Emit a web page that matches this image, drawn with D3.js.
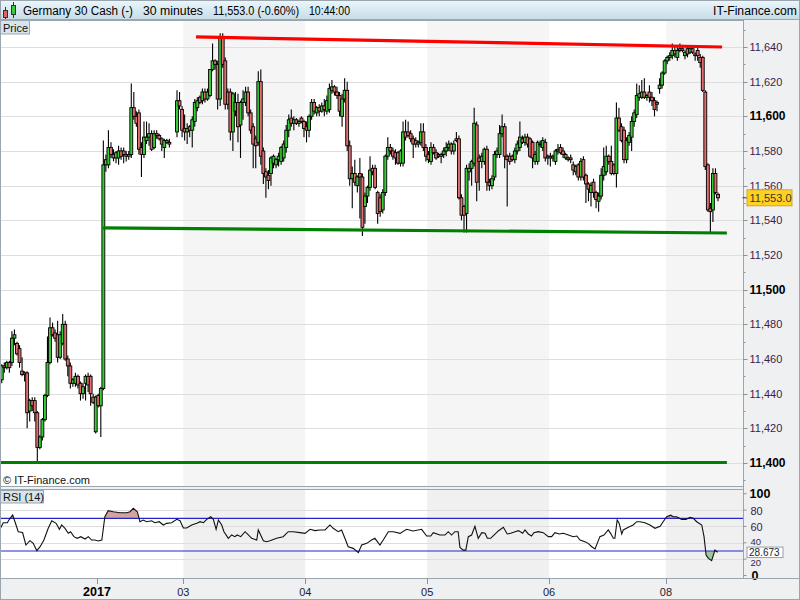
<!DOCTYPE html>
<html><head><meta charset="utf-8">
<script src="https://cdnjs.cloudflare.com/ajax/libs/d3/7.8.5/d3.min.js"></script>
<style>body{margin:0;background:#fff}svg{display:block;font-family:"Liberation Sans",Arial,sans-serif}</style>
</head><body><svg id="c" width="800" height="600"></svg>
<script>
// ---- DATA: 30-minute candles [open, high, low, close] per trading day ----
const dec30 = [
[11448,11457,11446,11456],[11456,11458,11452,11455],[11455,11459,11454,11458],[11458,11459,11452,11455],
[11458,11476,11456,11472],[11472,11477,11468,11474],[11469,11470,11462,11463],[11466,11468,11455,11458],
[11453,11461,11450,11451],[11451,11453,11447,11452],[11452,11453,11420,11429],[11430,11437,11424,11436],
[11436,11438,11430,11433],[11436,11438,11424,11429],[11429,11430,11401,11409],[11409,11416,11408,11415],
[11415,11426,11413,11425],[11425,11440,11424,11439],[11439,11473,11438,11458],[11458,11484,11457,11478],
[11478,11481,11473,11474],[11475,11477,11470,11472],[11474,11482,11458,11461],[11461,11476,11460,11474],
[11469,11486,11468,11480],[11480,11482,11459,11460],[11460,11462,11450,11456],[11456,11458,11443,11446],
[11446,11449,11444,11448],[11446,11452,11444,11450],[11450,11451,11443,11445],[11446,11447,11436,11440],
[11440,11446,11437,11444],[11446,11451,11436,11450],[11450,11452,11441,11445],[11450,11451,11433,11440],
[11438,11440,11434,11435],[11418,11439,11417,11438]];
const jan02 = [
[11439,11440,11432,11433],[11433,11444,11415,11443],[11443,11586,11442,11572],[11572,11578,11568,11575],
[11572,11592,11570,11582],[11582,11585,11576,11578],[11578,11581,11574,11576],[11576,11580,11573,11579],
[11576,11583,11572,11580],[11580,11582,11575,11577],[11580,11582,11573,11578],[11578,11580,11574,11577],
[11577,11580,11575,11578],[11578,11619,11576,11605],[11605,11614,11598,11600],[11600,11603,11594,11596],
[11602,11604,11578,11581],[11582,11585,11565,11578],[11578,11597,11576,11588],[11586,11597,11584,11588],
[11588,11596,11583,11590],[11590,11592,11580,11581],[11582,11592,11581,11590],[11590,11592,11587,11589],
[11589,11590,11586,11587],[11587,11588,11580,11584],[11582,11587,11576,11586],[11586,11587,11584,11585],
[11585,11587,11582,11584],null,null,[11591,11615,11588,11609],[11609,11614,11604,11606],[11604,11606,11588,11592]];
const jan03 = [
[11593,11601,11586,11591],[11591,11596,11584,11593],[11594,11595,11588,11592],[11592,11600,11582,11598],
[11597,11610,11594,11608],[11605,11611,11603,11609],[11611,11612,11607,11608],[11609,11616,11607,11614],
[11614,11616,11608,11610],[11610,11616,11609,11614],[11612,11627,11611,11627],[11627,11642,11626,11632],
[11632,11633,11627,11630],[11630,11632,11604,11610],[11610,11648,11606,11645],[11645,11648,11628,11630],
[11632,11634,11604,11607],[11614,11616,11604,11607],[11614,11616,11586,11591],[11591,11614,11580,11613],
[11603,11614,11600,11608],[11608,11613,11585,11594],[11595,11609,11576,11608],[11608,11615,11598,11610],
[11608,11617,11606,11614],[11614,11617,11600,11602],[11602,11604,11590,11592],[11594,11596,11570,11584],
[11587,11589,11570,11583],[11585,11626,11583,11620],[11620,11627,11572,11577],[11580,11582,11561,11567],
[11568,11570,11553,11565],[11566,11569,11558,11563],[11567,11577,11560,11576],[11573,11578,11570,11577],
[11572,11576,11570,11575],[11575,11579,11571,11577],[11574,11583,11572,11582],[11576,11586,11574,11584],
[11582,11595,11579,11592],[11592,11601,11588,11598],[11599,11604,11594,11596],[11596,11600,11592,11598],
[11598,11599,11595,11596],[11596,11598,11594,11597],[11599,11600,11596,11597],[11597,11598,11588,11593]];
const jan04 = [
[11594,11597,11585,11592],[11592,11601,11588,11600],[11600,11610,11598,11608],[11608,11610,11601,11603],
[11602,11606,11600,11605],[11605,11607,11600,11603],[11603,11608,11602,11606],[11606,11610,11600,11604],
[11603,11612,11601,11609],[11604,11619,11602,11616],[11615,11621,11613,11617],[11617,11618,11612,11614],
[11614,11617,11610,11612],[11612,11614,11600,11603],[11600,11613,11594,11610],[11610,11622,11608,11615],
[11615,11620,11580,11583],[11583,11586,11560,11564],[11564,11571,11547,11567],[11567,11575,11560,11562],
[11560,11566,11556,11565],[11567,11576,11541,11565],[11565,11567,11531,11536],[11548,11556,11538,11554],
[11554,11560,11550,11559],[11559,11577,11557,11569],[11570,11572,11566,11568],[11570,11572,11558,11559],
[11556,11557,11538,11544],[11553,11555,11542,11545],[11546,11558,11544,11556],[11556,11578,11554,11577],
[11577,11588,11575,11582],[11582,11584,11578,11580],[11580,11582,11575,11577],[11579,11581,11572,11576],
[11579,11580,11572,11573],[11573,11581,11571,11580],[11573,11597,11571,11591],[11591,11598,11586,11588],
[11591,11597,11588,11589],[11590,11592,11585,11587],[11587,11589,11576,11584],[11586,11588,11582,11584],
[11584,11586,11582,11585],[11585,11596,11583,11591],[11591,11596,11580,11582],[11582,11584,11574,11577]];
const jan05 = [
[11578,11580,11573,11575],[11574,11585,11572,11582],[11582,11584,11578,11579],[11579,11581,11575,11576],
[11578,11579,11576,11577],[11577,11579,11573,11578],[11578,11582,11576,11580],[11580,11585,11577,11582],
[11582,11586,11580,11584],[11584,11585,11578,11580],[11580,11586,11578,11584],[11587,11591,11585,11586],
[11587,11589,11552,11553],[11553,11555,11540,11543],[11548,11549,11533,11543],[11544,11572,11533,11570],
[11568,11573,11563,11570],[11570,11575,11560,11574],[11573,11605,11571,11596],[11595,11597,11551,11562],
[11576,11578,11557,11574],[11574,11579,11570,11577],[11574,11582,11572,11581],[11581,11583,11557,11562],
[11562,11564,11557,11560],[11560,11566,11558,11564],[11565,11580,11563,11578],[11578,11582,11576,11580],
[11578,11595,11576,11590],[11590,11601,11588,11594],[11594,11596,11570,11577],[11577,11578,11548,11575],
[11577,11579,11572,11574],[11577,11578,11574,11575],[11575,11582,11573,11580],[11580,11586,11578,11584],
[11582,11597,11580,11588],[11587,11589,11584,11585],[11585,11590,11583,11588],[11588,11590,11582,11584],
[11587,11588,11576,11577],[11585,11586,11570,11576],[11574,11580,11572,11578],[11574,11586,11572,11585],
[11584,11586,11582,11584],[11582,11588,11580,11586],[11585,11587,11574,11576],[11576,11578,11572,11577]];
const jan06 = [
[11577,11579,11571,11576],[11576,11578,11574,11577],[11574,11581,11572,11580],[11580,11584,11578,11581],
[11582,11584,11578,11579],[11580,11582,11576,11578],[11578,11579,11575,11576],[11575,11577,11574,11576],
[11576,11578,11573,11575],[11572,11574,11566,11569],[11568,11572,11566,11571],[11572,11573,11563,11565],
[11565,11576,11563,11574],[11575,11577,11563,11565],[11566,11567,11550,11561],[11561,11562,11551,11558],
[11556,11562,11548,11560],[11562,11564,11553,11556],[11556,11557,11547,11552],[11551,11556,11545,11554],
[11554,11570,11552,11566],[11566,11582,11563,11571],[11568,11583,11566,11577],[11577,11578,11572,11574],
[11574,11583,11566,11567],[11572,11573,11566,11567],[11567,11608,11559,11599],[11599,11605,11591,11592],
[11594,11596,11585,11586],[11592,11594,11573,11575],[11575,11588,11573,11586],[11585,11591,11583,11589],
[11588,11600,11580,11597],[11597,11604,11594,11602],[11601,11619,11599,11612],[11611,11618,11609,11613],
[11611,11621,11610,11614],[11614,11622,11610,11611],[11611,11613,11609,11612],[11614,11618,11608,11611],
[11611,11614,11606,11609],[11609,11611,11600,11604],[11607,11609,11603,11608],[11616,11622,11613,11618],
[11618,11626,11616,11625],[11625,11633,11624,11632]];
const jan08 = [
[11632,11635,11630,11634],[11634,11637,11632,11635],[11635,11642,11633,11638],[11638,11640,11634,11636],
[11634,11640,11632,11638],[11639,11642,11637,11638],[11639,11640,11637,11638],[11635,11638,11633,11637],
[11639,11640,11634,11636],[11637,11641,11636,11639],[11639,11640,11636,11637],[11636,11637,11632,11635],
[11638,11640,11632,11635],[11634,11636,11628,11631],[11634,11635,11614,11615],[11614,11615,11569,11571],
[11572,11573,11545,11546],[11547,11550,11533,11545],[11546,11570,11539,11567],[11567,11570,11555,11556],
[11555,11556,11551,11553]];
const dayLabels = ["2017","03","04","05","06","08"];
const shadedDays = ["03","05","08"];
const priceTicks = [11400,11420,11440,11460,11480,11500,11520,11540,11560,11580,11600,11620,11640];
const rsiTicks = [0,20,40,60,80,100];
// trend lines: [candle index, price]
const redLine = [[76.5,11645.8],[283.6,11640]];
const supportLine = [[39.9,11535.6],[285.5,11532.7]];
const floorLine = [[-0.7,11400.3],[285.5,11400.3]];
// RSI(14): [candle index, value]
const rsiPts = [
[-0.7,56.5],[0.6,64.6],[2.2,64.6],[3.0,68.7],[4.3,74],[5.2,65.8],[6.5,53.6],[8.2,52.5],[9.5,37.3],[11.1,42.6],
[12.4,39.3],[13.8,30.4],[15.1,35.2],[16.6,43.4],[18.3,57.7],[19.7,67],[21.4,63.8],[22.7,56.5],[23.6,61.8],[24.9,57.7],
[26.2,51.6],[27.1,53.6],[28.4,47.5],[29.7,45.5],[31.1,47.5],[32.8,44.6],[34.1,47.5],[35.4,43.4],[36.7,43.4],[38.0,42.2],
[39.4,43.4],[40.6,71.9],[41.9,79.3],[43.9,78],[46.6,76.8],[49.2,76.8],[50.5,78],[51.8,82.2],[53.4,78],[54.4,65.8],
[55.7,67.9],[57.1,65.8],[59.0,67],[60.3,64.6],[62.0,65.8],[63.6,61.8],[64.9,63.8],[66.9,64.6],[68.9,68.7],[70.2,67],
[71.5,58.1],[72.8,58.1],[74.8,61.8],[76.8,63.8],[78.1,65.8],[79.4,64.6],[80.7,68.7],[82.3,71.9],[83.3,68.7],[84.4,56.5],
[85.3,67.9],[86.6,61.8],[87.5,53.6],[89.2,45.5],[90.5,49.6],[91.8,47.5],[92.7,49.6],[94.1,47.5],[95.8,53.6],[97.1,49.6],
[98.4,45.5],[100.4,43.4],[101.0,55.7],[103.0,42.6],[104.3,41.4],[105.6,42.6],[108.2,45.5],[110.8,47.5],[112.8,53.6],[114.8,53.6],
[117.4,52.4],[119.4,51.6],[121.4,56.5],[123.3,54.9],[125.3,55.7],[127.3,55.7],[129.2,61.8],[130.5,57.7],[132.5,53.6],[133.8,55.7],
[135.1,45.5],[136.4,35.2],[138.4,33.2],[140.4,27.9],[141.7,37.3],[143.7,39.3],[145.6,43.4],[146.9,45.5],[148.9,37.3],[150.2,43.4],
[152.2,53.6],[154.2,53.6],[156.8,51.5],[159.4,56.5],[162.0,54.5],[165.3,56.5],[167.3,48.3],[168.9,48.3],[169.9,52.4],[172.5,49.5],
[174.5,49.5],[175.8,53.6],[177.1,49.5],[178.4,53.6],[179.7,53.6],[180.4,34.3],[181.7,31.1],[182.7,31.1],[183.7,47.5],[185.0,49.5],
[186.3,60.2],[187.6,45.5],[189.0,52.4],[190.3,51.6],[191.2,45.5],[192.5,45.5],[193.8,49.5],[195.5,54.5],[197.5,59],[199.0,50.8],
[200.4,51.6],[202.1,53.6],[203.4,54.9],[205.1,51.6],[206.0,55.7],[207.3,50.8],[208.6,48.3],[209.5,52.4],[211.2,53.6],[213.2,52.4],
[215.2,47.5],[216.5,47.5],[217.8,52.4],[219.5,50.8],[221.1,51.6],[223.1,49.5],[225.0,47.5],[226.4,48.3],[227.7,43.4],[229.6,41.4],
[230.9,39.3],[232.3,35.2],[233.6,32.4],[235.5,47.5],[237.1,49.5],[238.8,55.7],[239.7,51.6],[240.8,45.5],[241.4,45.5],[242.3,67.9],
[243.1,63.8],[244.1,50.8],[244.7,55.7],[246.7,59],[248.6,61.8],[250.0,65.8],[251.3,65.8],[253.2,64.6],[255.2,61.8],[257.2,57.7],
[259.2,60.2],[260.4,65.8],[261.8,71.9],[263.4,73.8],[264.4,71.9],[265.7,71.9],[267.7,68.7],[269.4,68.7],[271.0,71.2],[272.3,70],
[273.6,65.8],[275.6,61.8],[276.5,47.5],[277.3,25.1],[278.2,21],[279.5,18.1],[280.8,31.1],[281.5,29.1],[282,28.673]];
const lastPrice = 11553.0, lastRsi = 28.673;

// ---- BUILD ----
const days = [dec30,jan02,jan03,jan04,jan05,jan06,jan08];
const candles = [].concat(...days).map((d,i)=>d?{i,o:d[0],h:d[1],l:d[2],c:d[3]}:null).filter(Boolean);
const nSlots = [].concat(...days).length;
const starts = []; { let s=0; days.forEach((d,k)=>{ if(k>0) starts.push(s-0.5); s+=d.length; }); }

const plotR = 743, pTop = 20, pBot = 487, rTop = 489, rBot = 578;
const x = d3.scaleLinear().domain([0,nSlots-1]).range([1.75,718]);
const tEnd = x.invert(plotR);
const y = d3.scaleLinear().domain([11400,11640]).range([463,47]);
const yR = d3.scaleLinear().domain([0,100]).range([575.5,493.75]);

const svg = d3.select("#c");
const defs = svg.append("defs");
const hg = defs.append("linearGradient").attr("id","hdr").attr("x1",0).attr("y1",0).attr("x2",0).attr("y2",1);
hg.append("stop").attr("offset","0").attr("stop-color","#ebf7fc");
hg.append("stop").attr("offset","1").attr("stop-color","#c8dde7");
defs.append("clipPath").attr("id","pclip").append("rect").attr("x",0).attr("y",pTop).attr("width",plotR).attr("height",pBot-pTop);
defs.append("clipPath").attr("id","rclip").append("rect").attr("x",0).attr("y",rTop).attr("width",plotR).attr("height",rBot-rTop);
defs.append("clipPath").attr("id","hiclip").append("rect").attr("x",0).attr("y",rTop).attr("width",plotR).attr("height",yR(70)-rTop);
defs.append("clipPath").attr("id","loclip").append("rect").attr("x",0).attr("y",yR(30)).attr("width",plotR).attr("height",rBot-yR(30));

// backgrounds
svg.append("rect").attr("width",800).attr("height",600).attr("fill","#eff0f2");
svg.append("rect").attr("x",0).attr("y",pTop).attr("width",plotR).attr("height",pBot-pTop).attr("fill","#fff");
svg.append("rect").attr("x",0).attr("y",rTop).attr("width",plotR).attr("height",rBot-rTop).attr("fill","#fff");

// day bands
const bounds = starts.map((s,k)=>({t:s,label:dayLabels[k],end:k+1<starts.length?starts[k+1]:tEnd}));
bounds.filter(b=>shadedDays.includes(b.label)).forEach(b=>{
  svg.append("rect").attr("x",x(b.t)).attr("y",pTop).attr("width",x(b.end)-x(b.t)).attr("height",pBot-pTop).attr("fill","#f5f5f5");
  svg.append("rect").attr("x",x(b.t)).attr("y",rTop).attr("width",x(b.end)-x(b.t)).attr("height",rBot-rTop).attr("fill","#f0f0f0");
});

// grid
svg.append("g").selectAll("line").data(priceTicks).join("line")
  .attr("x1",0).attr("x2",plotR).attr("y1",d=>Math.round(y(d))+0.5).attr("y2",d=>Math.round(y(d))+0.5)
  .attr("stroke","#dedede");
svg.append("g").selectAll("line").data([20,40,60,80]).join("line")
  .attr("x1",0).attr("x2",plotR).attr("y1",d=>Math.round(yR(d))+0.5).attr("y2",d=>Math.round(yR(d))+0.5)
  .attr("stroke","#dedede");

// candles
const gc = svg.append("g").attr("clip-path","url(#pclip)");
const cg = gc.selectAll("g").data(candles).join("g");
cg.append("line").attr("x1",d=>x(d.i)).attr("x2",d=>x(d.i)).attr("y1",d=>y(d.h)).attr("y2",d=>y(d.l))
  .attr("stroke","#000").attr("stroke-width",1.1);
cg.append("rect").attr("x",d=>x(d.i)-1.45).attr("width",2.9)
  .attr("y",d=>y(Math.max(d.o,d.c))).attr("height",d=>Math.max(0.8,Math.abs(y(d.o)-y(d.c))))
  .attr("fill",d=>d.c>=d.o?"#36cc36":"#e46e6e").attr("stroke","#000").attr("stroke-width",0.9);

// trend lines
const tl = d3.line().x(d=>x(d[0])).y(d=>y(d[1]));
gc.append("path").attr("d",tl(floorLine)).attr("stroke","#008000").attr("stroke-width",3.2).attr("fill","none");
gc.append("path").attr("d",tl(supportLine)).attr("stroke","#008000").attr("stroke-width",3.2).attr("fill","none");
gc.append("path").attr("d",tl(redLine)).attr("stroke","#ff0000").attr("stroke-width",3.2).attr("fill","none");

// RSI
const rsi = rsiPts.map(([t,v])=>({t,v}));
const gr = svg.append("g").attr("clip-path","url(#rclip)");
gr.append("path").attr("clip-path","url(#hiclip)")
  .attr("d",d3.area().x(d=>x(d.t)).y0(yR(70)).y1(d=>yR(d.v))(rsi)).attr("fill","#d2a3a1");
gr.append("path").attr("clip-path","url(#loclip)")
  .attr("d",d3.area().x(d=>x(d.t)).y0(yR(30)).y1(d=>yR(d.v))(rsi)).attr("fill","#9fc69c");
[70,30].forEach(v=>gr.append("line").attr("x1",0).attr("x2",plotR).attr("y1",yR(v)).attr("y2",yR(v)).attr("stroke","#2424cc").attr("stroke-width",1.2));
gr.append("path").attr("d",d3.line().x(d=>x(d.t)).y(d=>yR(d.v))(rsi)).attr("fill","none").attr("stroke","#111").attr("stroke-width",1.1);

// frames
svg.append("rect").attr("x",0.5).attr("y",pTop+0.5).attr("width",plotR).attr("height",pBot-pTop-1).attr("fill","none").attr("stroke","#9aa5ae");
svg.append("rect").attr("x",0.5).attr("y",rTop+0.5).attr("width",plotR).attr("height",rBot-rTop).attr("fill","none").attr("stroke","#9aa5ae");

// price axis
const ya = svg.append("g").attr("transform",`translate(${plotR+0.5},0)`);
ya.append("line").attr("y1",pTop).attr("y2",rBot).attr("stroke","#9aa5ae");
const minor = d3.range(11390,11651,10);
ya.selectAll("line.t").data(minor).join("line").attr("class","t")
  .attr("x1",0).attr("x2",d=>d%20===0?4:2).attr("y1",d=>Math.round(y(d))+0.5).attr("y2",d=>Math.round(y(d))+0.5).attr("stroke","#8a949c");
ya.selectAll("text").data(priceTicks).join("text")
  .attr("x",6).attr("y",d=>y(d)+4)
  .attr("font-size",d=>d%100===0?12:11).attr("font-weight",d=>d%100===0?"bold":"normal")
  .attr("fill",d=>d%100===0?"#000":"#3a1d48")
  .text(d=>d3.format(",")(d));
// last price tag
ya.append("line").attr("x1",-1).attr("x2",4).attr("y1",y(lastPrice)).attr("y2",y(lastPrice)).attr("stroke","#333");
ya.append("rect").attr("x",3.5).attr("y",y(lastPrice)-8).attr("width",45).attr("height",16).attr("fill","#ffd21f").attr("stroke","#c9a53c");
ya.append("text").attr("x",6).attr("y",y(lastPrice)+4).attr("font-size",11).attr("fill","#333").text(d3.format(",.1f")(lastPrice));

// RSI axis
const ra = svg.append("g").attr("transform",`translate(${plotR+0.5},0)`);
ra.selectAll("line").data(rsiTicks).join("line").attr("x1",0).attr("x2",3).attr("y1",d=>yR(d)).attr("y2",d=>yR(d)).attr("stroke","#8a949c");
ra.selectAll("text").data(rsiTicks).join("text")
  .attr("x",d=>d===100?6:(d===0?8:7)).attr("y",d=>yR(d)+(d===20?7.3:(d===40?1.7:4.5)))
  .attr("font-size",d=>(d===0||d===100)?12.5:(d===20||d===40?9.5:11)).attr("font-weight",d=>(d===0||d===100)?"bold":"normal")
  .attr("fill",d=>(d===0||d===100)?"#000":"#3a1d48").text(d=>d);
ra.append("rect").attr("x",3.5).attr("y",yR(lastRsi)-5).attr("width",36).attr("height",10.5).attr("fill","#fff").attr("stroke","#9aa0a6");
ra.append("text").attr("x",5.5).attr("y",yR(lastRsi)+3.5).attr("font-size",10).attr("fill","#222").text(lastRsi.toFixed(3));

// date axis
svg.append("line").attr("x1",0).attr("x2",800).attr("y1",rBot+0.5).attr("y2",rBot+0.5).attr("stroke","#9aa5ae");
const da = svg.append("g");
da.selectAll("line").data(bounds).join("line").attr("x1",d=>Math.round(x(d.t))+0.5).attr("x2",d=>Math.round(x(d.t))+0.5)
  .attr("y1",rBot).attr("y2",rBot+6).attr("stroke","#8a949c");
da.selectAll("text").data(bounds).join("text").attr("x",d=>x(d.t)).attr("y",596).attr("text-anchor","middle")
  .attr("font-size",d=>d.label==="2017"?12.5:11).attr("font-weight",d=>d.label==="2017"?"bold":"normal")
  .attr("fill",d=>d.label==="2017"?"#000":"#1c1c30").text(d=>d.label);

// header
svg.append("rect").attr("x",0).attr("y",0).attr("width",800).attr("height",19).attr("fill","url(#hdr)");
svg.append("line").attr("x1",0).attr("x2",800).attr("y1",19.5).attr("y2",19.5).attr("stroke","#9aa8b2");
const ic = svg.append("g");
ic.append("line").attr("x1",5.5).attr("x2",5.5).attr("y1",7).attr("y2",19).attr("stroke","#333");
ic.append("rect").attr("x",3.5).attr("y",10.5).attr("width",4).attr("height",7).attr("fill","#e06464").attr("stroke","#333");
ic.append("line").attr("x1",13.5).attr("x2",13.5).attr("y1",2).attr("y2",18).attr("stroke","#333");
ic.append("rect").attr("x",11.5).attr("y",5.5).attr("width",4).attr("height",9).attr("fill","#3ccb3c").attr("stroke","#333");
const hdr = [["Germany 30 Cash (-)",23,110],["30 minutes",143,60],["11,553.0 (-0.60%)",213,86],["10:44:00",309,41]];
svg.append("g").selectAll("text").data(hdr).join("text").attr("x",d=>d[1]).attr("y",15).attr("font-size",12)
  .attr("textLength",d=>d[2]).attr("lengthAdjust","spacingAndGlyphs").attr("fill","#000").text(d=>d[0]);
svg.append("text").attr("x",713).attr("y",15).attr("font-size",12).attr("textLength",84).attr("lengthAdjust","spacingAndGlyphs")
  .attr("fill","#000").text("IT-Finance.com");

// panel labels
svg.append("rect").attr("x",0.5).attr("y",20.5).attr("width",29).attr("height",13.5).attr("fill","#d8e3ea").attr("stroke","#9aa7b0");
svg.append("text").attr("x",3).attr("y",31.5).attr("font-size",11).attr("fill","#111").text("Price");
svg.append("rect").attr("x",0.5).attr("y",490.5).attr("width",43).attr("height",12.5).attr("fill","#d8e3ea").attr("stroke","#9aa7b0");
svg.append("text").attr("x",3).attr("y",501).attr("font-size",11).attr("fill","#111").text("RSI (14)");
svg.append("text").attr("x",3).attr("y",484).attr("font-size",11).attr("fill","#111").text("© IT-Finance.com");
svg.append("rect").attr("x",0.5).attr("y",0.5).attr("width",799).attr("height",599).attr("fill","none").attr("stroke","#9aa5ae");
</script></body></html>
